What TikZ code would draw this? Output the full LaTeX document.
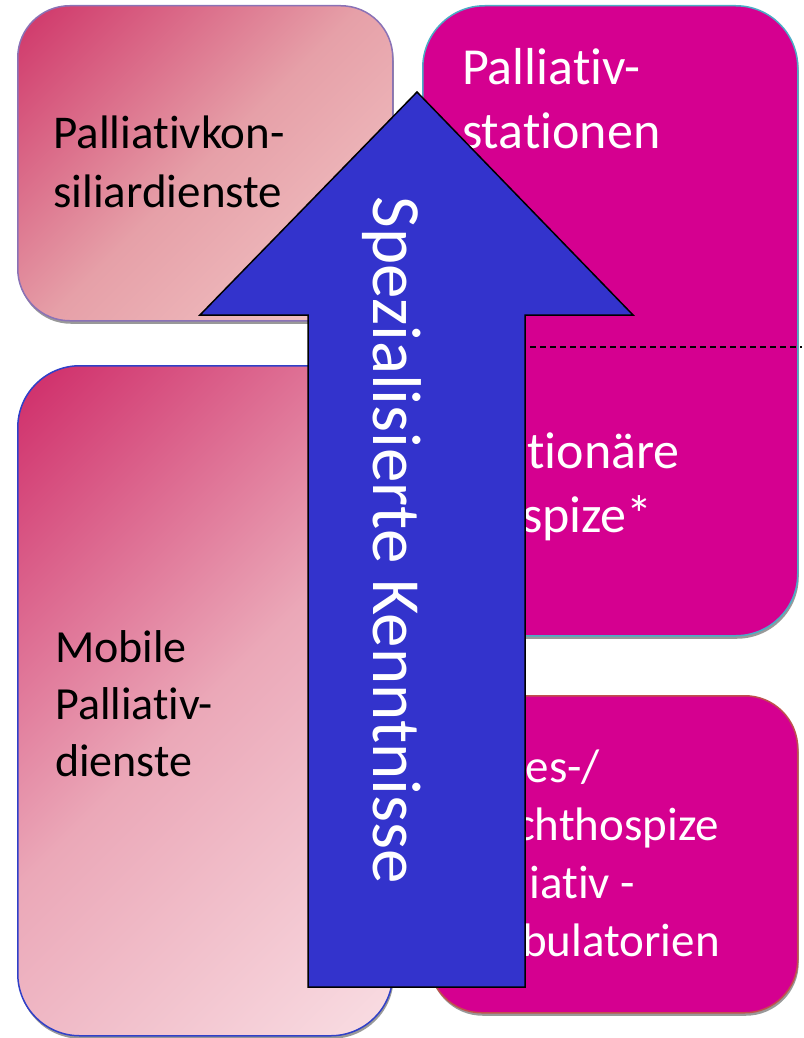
\documentclass[tikz,border=0pt]{standalone}
\usepackage{fontspec}
\setmainfont{Carlito}[Ligatures={NoCommon}]
\usetikzlibrary{shadows}
\definecolor{magentafill}{HTML}{D50090}
\definecolor{arrowblue}{HTML}{3333CC}
\definecolor{pinkdark}{HTML}{CF3569}
\definecolor{pinkmid}{HTML}{E6A0A8}
\definecolor{pinklight}{HTML}{F4CACA}
\definecolor{pinkdarkb}{HTML}{CF2C69}
\definecolor{pinkmidb}{HTML}{EBA8B8}
\definecolor{pinklighter}{HTML}{F9DDE3}
\definecolor{bordpurple}{HTML}{8A72B6}
\definecolor{bordteal}{HTML}{4BACC6}
\definecolor{bordred}{HTML}{C0504D}
\definecolor{bordblue}{HTML}{3040C8}
\pgfdeclarehorizontalshading{pinkdiag}{100bp}{color(0bp)=(pinkdark); color(15bp)=(pinkdark); color(50bp)=(pinkmid); color(85bp)=(pinklight); color(100bp)=(pinklight)}
\pgfdeclarehorizontalshading{pinkdiagb}{100bp}{color(0bp)=(pinkdarkb); color(15bp)=(pinkdarkb); color(50bp)=(pinkmidb); color(85bp)=(pinklighter); color(100bp)=(pinklighter)}
\tikzset{
  box/.style={rectangle, draw, line width=1.5pt, inner sep=0pt, anchor=north west,
    drop shadow={shadow xshift=1pt, shadow yshift=-3pt, fill=black!40, opacity=1}},
  lbl/.style={inner sep=0pt, anchor=base west, align=left},
  arrowshape/.style={fill=arrowblue, draw=black, line width=1.5pt, line join=miter},
  divider/.style={dash pattern=on 6pt off 4pt, line width=1.5pt, draw=black}
}
\begin{document}
\begin{tikzpicture}[x=1pt,y=-1pt]
\useasboundingbox (0,0) rectangle (803,1038);
% boxes
\node[box, draw=bordpurple, rounded corners=52pt, minimum width=375pt, minimum height=315pt,
  shading=pinkdiag, shading angle=-45] (pk) at (17,5) {};
\node[box, draw=bordteal, fill=magentafill, rounded corners=62pt, minimum width=375pt, minimum height=630pt] (ps) at (422,5) {};
\node[box, draw=bordred, fill=magentafill, rounded corners=53pt, minimum width=369pt, minimum height=317pt] (th) at (428,695) {};
\node[box, draw=bordblue, rounded corners=62pt, minimum width=375pt, minimum height=670pt,
  shading=pinkdiagb, shading angle=-45] (mp) at (17,365) {};
% labels (anchor = baseline of last line)
\node[lbl, font=\fontsize{47}{59}\selectfont] (tpk) at (53,207) {Palliativkon-\\siliardienste};
\node[lbl, font=\fontsize{52}{63}\selectfont, text=white] (tps) at (462,148) {Palliativ-\\stationen};
\node[lbl, font=\fontsize{52}{64}\selectfont, text=white] (tsh) at (462,532) {Stationäre\\Hospize*};
\node[lbl, font=\fontsize{47}{58}\selectfont, text=white] (tth) at (462,956) {Tages-/\\Nachthospize\\Palliativ -\\ambulatorien};
\node[lbl, font=\fontsize{46}{57}\selectfont] (tmp) at (55,776) {Mobile\\Palliativ-\\dienste};
% divider
\coordinate (dl) at (430,347);
\coordinate (dr) at (802,347);
\draw[divider] (dl) -- (dr);
% arrow
\draw[arrowshape] (308,987) -- (308,315) -- (200,315) -- (417,92) -- (633,315) -- (525,315) -- (525,987) -- cycle;
\node[inner sep=0pt, anchor=base, rotate=-90, text=white, font=\fontsize{69}{80}\selectfont] (kn) at (373,540) {Spezialisierte Kenntnisse};
\end{tikzpicture}
\end{document}
